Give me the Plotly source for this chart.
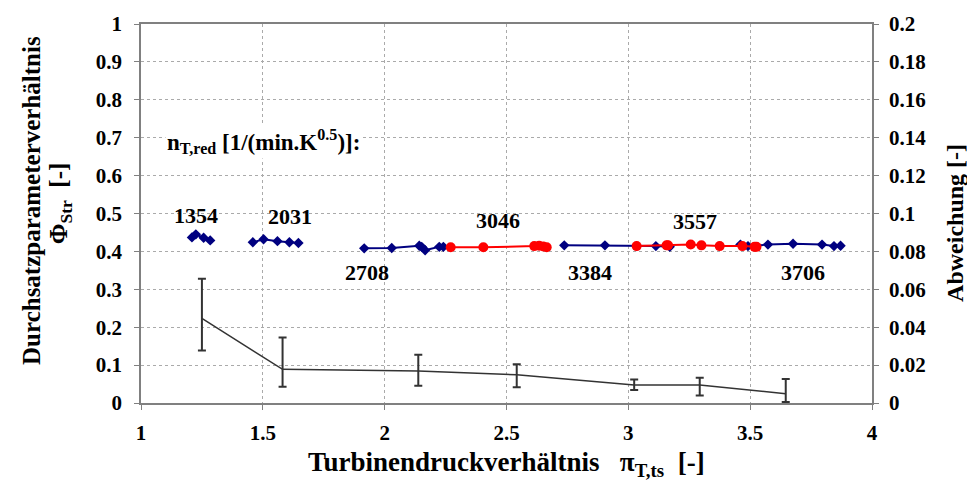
import plotly.graph_objects as go

# ---- data ----
s1354_x = [1.209, 1.225, 1.257, 1.284]
s1354_y = [0.437, 0.445, 0.436, 0.429]
s2031_x = [1.459, 1.503, 1.560, 1.609, 1.646]
s2031_y = [0.424, 0.432, 0.427, 0.424, 0.422]
s2708_x = [1.916, 2.029, 2.142, 2.152, 2.166, 2.224, 2.241]
s2708_y = [0.408, 0.409, 0.415, 0.412, 0.403, 0.412, 0.412]
s3046_x = [2.271, 2.405, 2.614, 2.634, 2.651, 2.665]
s3046_y = [0.411, 0.411, 0.414, 0.415, 0.413, 0.411]
s3384_x = [2.737, 2.904, 3.034, 3.113, 3.170]
s3384_y = [0.416, 0.416, 0.414, 0.414, 0.412]
s3557_x = [3.034, 3.157, 3.163, 3.256, 3.300, 3.375, 3.468, 3.518, 3.526]
s3557_y = [0.414, 0.416, 0.416, 0.418, 0.416, 0.414, 0.414, 0.412, 0.412]
s3706_x = [3.460, 3.491, 3.573, 3.676, 3.795, 3.844, 3.871]
s3706_y = [0.418, 0.414, 0.418, 0.420, 0.418, 0.414, 0.415]

dev_x = [1.250, 1.581, 2.138, 2.542, 3.024, 3.293, 3.646]
dev_y = [0.0446, 0.0178, 0.0169, 0.0149, 0.0095, 0.0095, 0.0049]
dev_plus = [0.0210, 0.0167, 0.0086, 0.0055, 0.0029, 0.0038, 0.0078]
dev_minus = [0.0169, 0.0092, 0.0078, 0.0066, 0.0026, 0.0055, 0.0044]

speed_labels = ["1354", "2031", "2708", "3046", "3384", "3557", "3706"]
label_x = [1.227, 1.612, 1.928, 2.465, 2.842, 3.273, 3.716]
label_y = [0.495, 0.492, 0.345, 0.482, 0.345, 0.479, 0.345]

BLUE = "#000080"
RED = "#FF0000"
FONT = "Times New Roman, Liberation Serif, serif"

fig = go.Figure()

blue_series = [(s1354_x, s1354_y), (s2031_x, s2031_y), (s2708_x, s2708_y),
               (s3384_x, s3384_y), (s3706_x, s3706_y)]
red_series = [(s3046_x, s3046_y), (s3557_x, s3557_y)]

for xs, ys in blue_series:
    fig.add_trace(go.Scatter(x=xs, y=ys, mode="lines+markers",
                             line=dict(color=BLUE, width=2),
                             marker=dict(symbol="diamond", size=8, color=BLUE),
                             showlegend=False))
for xs, ys in red_series:
    fig.add_trace(go.Scatter(x=xs, y=ys, mode="lines+markers",
                             line=dict(color=RED, width=2),
                             marker=dict(symbol="circle", size=10, color=RED),
                             showlegend=False))

fig.add_trace(go.Scatter(x=dev_x, y=dev_y, mode="lines", yaxis="y2",
                         line=dict(color="#333333", width=1.5),
                         error_y=dict(type="data", symmetric=False,
                                      array=dev_plus, arrayminus=dev_minus,
                                      color="#333333", thickness=2, width=4),
                         showlegend=False))


def bold(size):
    return dict(family=FONT, size=size, color="black", weight="bold")


annotations = []
for t, x, y in zip(speed_labels, label_x, label_y):
    annotations.append(dict(x=x, y=y, xref="x", yref="y", text=t, showarrow=False,
                            font=bold(22), xanchor="center", yanchor="middle"))
annotations.append(dict(x=1.502, y=0.689, xref="x", yref="y",
                        text="n<sub>T,red</sub> [1/(min.K<sup>0.5</sup>)]:",
                        showarrow=False, bgcolor="white", font=bold(23),
                        xanchor="center", yanchor="middle"))
# left title (two lines)
annotations.append(dict(x=-0.150, y=0.534, xref="paper", yref="paper",
                        text="Durchsatzparameterverhältnis", textangle=-90,
                        showarrow=False, font=bold(25),
                        xanchor="center", yanchor="middle"))
annotations.append(dict(x=-0.110, y=0.526, xref="paper", yref="paper",
                        text="Φ<sub>Str</sub>  [-]", textangle=-90,
                        showarrow=False, font=bold(25),
                        xanchor="center", yanchor="middle"))
# right title
annotations.append(dict(x=1.1135, y=0.475, xref="paper", yref="paper",
                        text="Abweichung [-]", textangle=-90, showarrow=False,
                        font=bold(24), xanchor="center", yanchor="middle"))
# x title
annotations.append(dict(x=0.5, y=-0.11, xref="paper", yref="paper",
                        text="Turbinendruckverhältnis   π<sub>T,ts</sub>  [-]",
                        showarrow=False, font=bold(27),
                        xanchor="center", yanchor="top"))

tickfont = bold(21)

fig.update_layout(
    width=967, height=488,
    margin=dict(l=141, r=95, t=17, b=85),
    paper_bgcolor="white", plot_bgcolor="white",
    font=dict(family=FONT),
    xaxis=dict(range=[1, 4], dtick=0.5, tick0=1, showgrid=True,
               gridcolor="#aaaaaa", griddash="dot", gridwidth=1,
               showline=True, linecolor="#808080", linewidth=1.5, mirror=True,
               ticks="outside", ticklen=5, tickcolor="#808080",
               tickfont=tickfont, ticklabelstandoff=5, zeroline=False),
    yaxis=dict(range=[0, 1], dtick=0.1, tick0=0, showgrid=True,
               gridcolor="#aaaaaa", griddash="dot", gridwidth=1,
               showline=True, linecolor="#808080", linewidth=1.5,
               ticks="outside", ticklen=5, tickcolor="#808080",
               tickfont=tickfont, ticklabelstandoff=8, zeroline=False),
    yaxis2=dict(range=[0, 0.2], dtick=0.02, tick0=0, overlaying="y", side="right",
                showgrid=False, showline=True, linecolor="#808080", linewidth=1.5,
                ticks="outside", ticklen=5, tickcolor="#808080",
                tickfont=tickfont, ticklabelstandoff=6, zeroline=False),
    annotations=annotations,
)

fig.write_html("out.html")
